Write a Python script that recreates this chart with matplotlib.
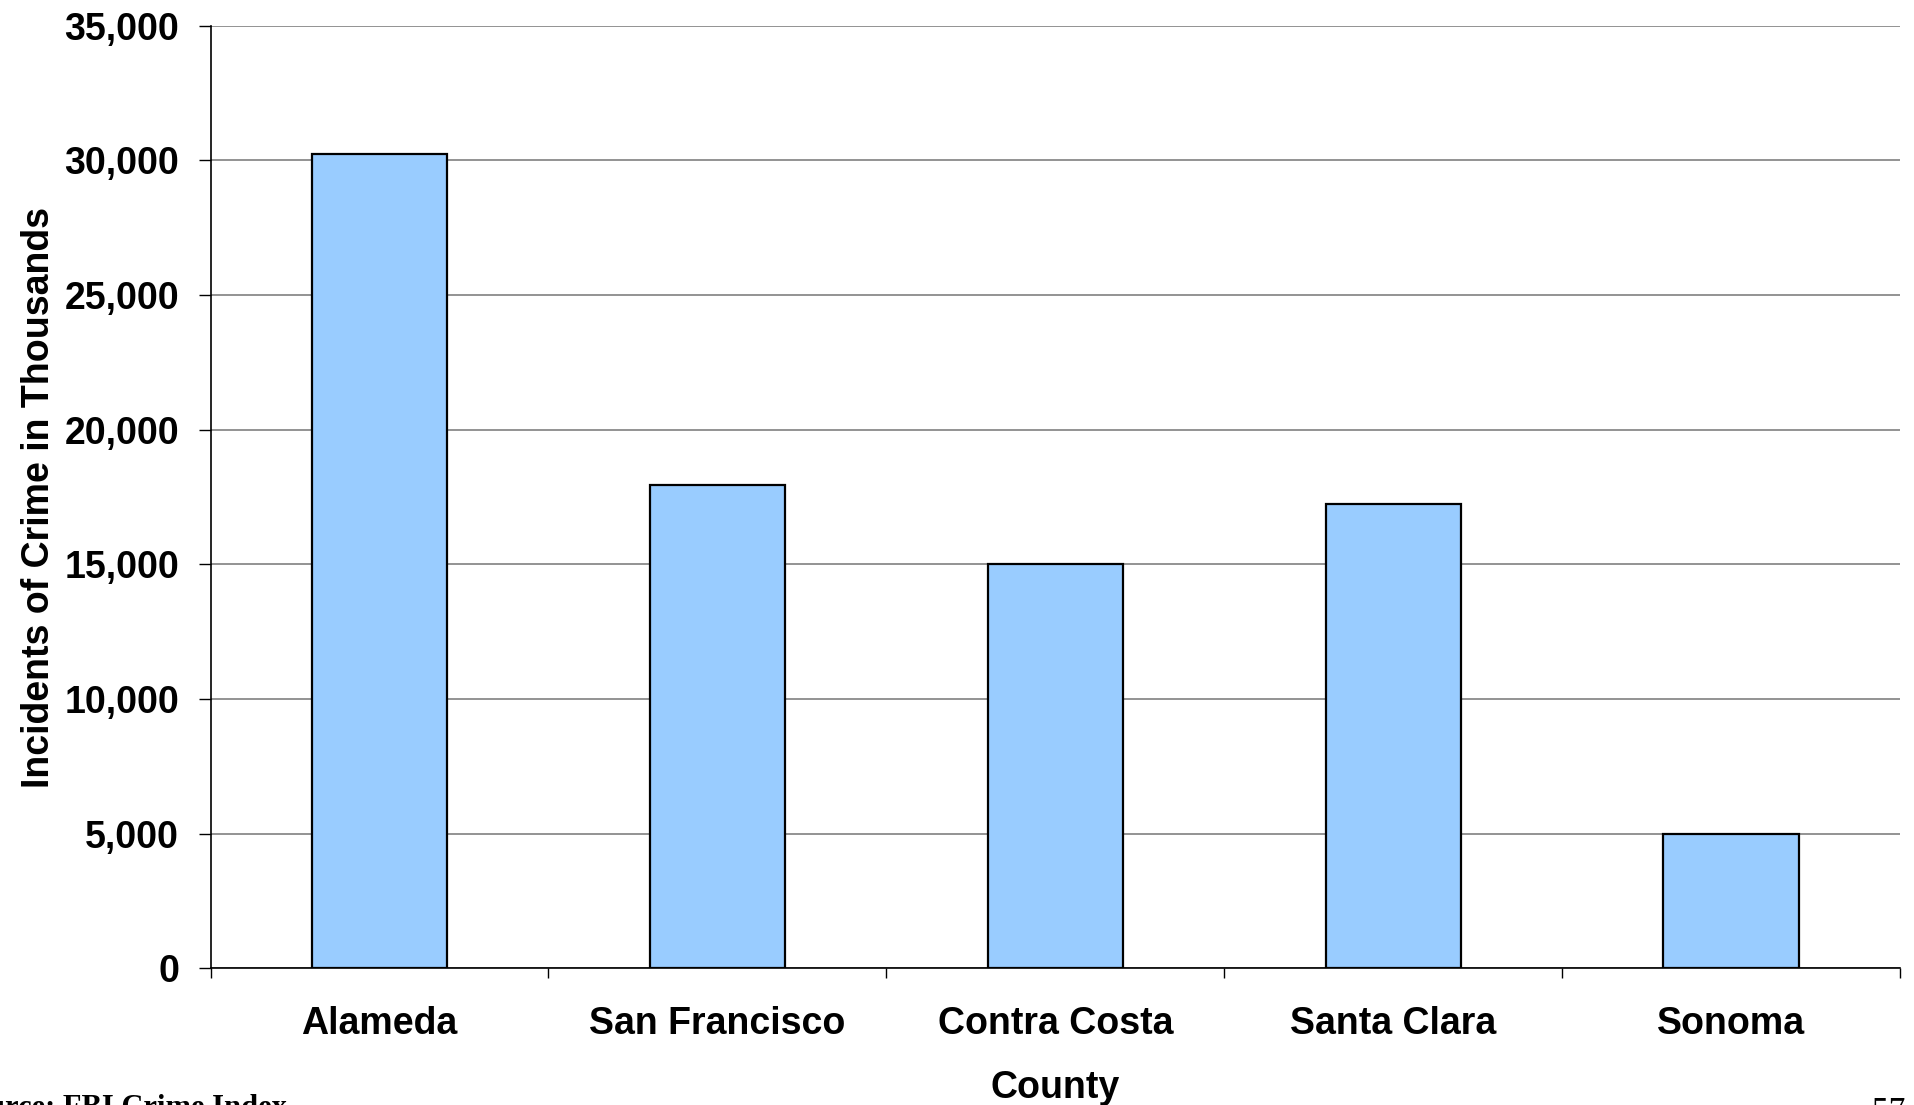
import matplotlib
matplotlib.use("Agg")
import matplotlib.pyplot as plt
from matplotlib.ticker import FuncFormatter, FixedLocator

counties = ["Alameda", "San Francisco", "Contra Costa", "Santa Clara", "Sonoma"]
incidents = [30240, 17950, 15000, 17230, 4990]
y_ticks = [0, 5000, 10000, 15000, 20000, 25000, 30000, 35000]

plt.rcParams['font.family'] = ['Liberation Sans', 'DejaVu Sans']

W, H, DPI = 1914, 1105, 100
fig = plt.figure(figsize=(W / DPI, H / DPI), dpi=DPI)
ax = fig.add_axes([210.5 / W, 1 - 968.3 / H, (1900 - 210.5) / W, (968.3 - 25.7) / H])

x = list(range(len(counties)))
ax.bar(x, incidents, width=0.4, color="#99CCFF", edgecolor="black", linewidth=1.6, zorder=3)

ax.set_xlim(-0.5, len(counties) - 0.5)
ax.set_ylim(0, 35000)
ax.set_yticks(y_ticks)
ax.yaxis.set_major_formatter(FuncFormatter(lambda v, p: f"{int(v):,}"))
ax.grid(axis="y", color="#808080", linewidth=1.2, zorder=0)
ax.set_axisbelow(True)

ax.set_xticks(x)
ax.set_xticklabels(counties, fontsize=27, fontweight="bold")
ax.xaxis.set_minor_locator(FixedLocator([i - 0.5 for i in range(len(counties) + 1)]))
ax.tick_params(axis="x", which="major", length=0, pad=27)
ax.tick_params(axis="x", which="minor", length=7.5, width=1.0, direction="out", color="black")
ax.tick_params(axis="y", which="major", length=8.6, width=1.0, direction="out", pad=14, labelsize=27)
for lbl in ax.get_yticklabels():
    lbl.set_fontweight("bold")

for s in ["top", "right"]:
    ax.spines[s].set_visible(False)
ax.spines["left"].set_linewidth(1.2)
ax.spines["bottom"].set_linewidth(1.2)

ax.set_xlabel("County", fontsize=27, fontweight="bold", labelpad=20)
ax.set_ylabel("Incidents of Crime in Thousands", fontsize=27, fontweight="bold", labelpad=5)

fig.text(287 / W, 1 - 1094 / H, "Source: FBI Crime Index", ha="right", va="top",
         fontsize=22, fontweight="bold", family=["Liberation Serif", "DejaVu Serif"])
fig.text(1872 / W, 1 - 1096 / H, "57", ha="left", va="top",
         fontsize=24, family=["Liberation Serif", "DejaVu Serif"])

fig.savefig("out.png", dpi=DPI, facecolor="white")
